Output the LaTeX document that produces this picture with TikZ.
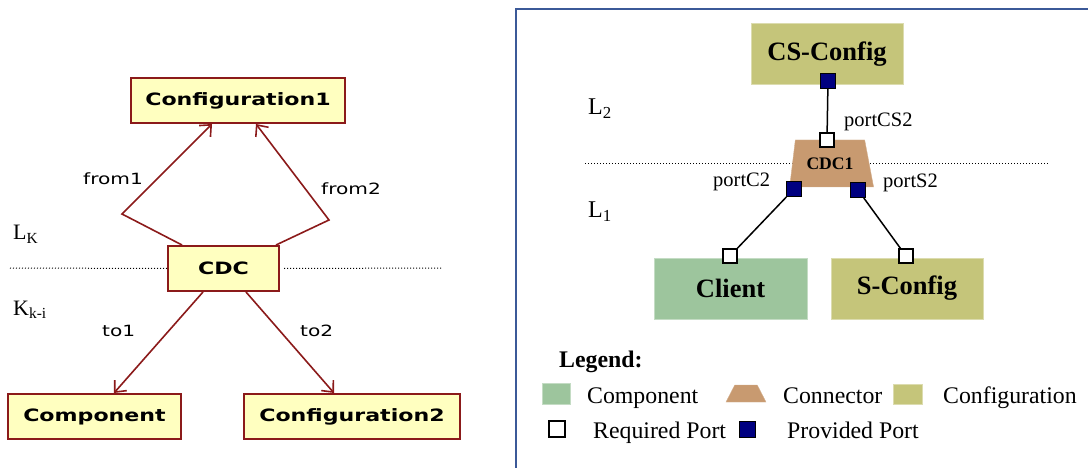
\documentclass[tikz,border=0pt]{standalone}
\usepackage{fontspec}
\setmainfont{Liberation Serif}
\newfontfamily\umlfont[FakeStretch=1.3]{DejaVu Sans}
\usetikzlibrary{shapes.geometric, arrows.meta}
\definecolor{umlfill}{HTML}{FFFFC0}
\definecolor{umlline}{HTML}{8B1A1A}
\definecolor{compgreen}{HTML}{9DC59D}
\definecolor{confolive}{HTML}{C5C57A}
\definecolor{conntan}{HTML}{C89A70}
\definecolor{portnavy}{HTML}{000080}
\definecolor{frameblue}{HTML}{3B5998}
\tikzstyle{umlbox} = [rectangle, draw=umlline, fill=umlfill, line width=2pt, text centered, minimum height=45pt, font=\umlfont\bfseries\fontsize{17}{20}\selectfont]
\tikzstyle{umlarrow} = [draw=umlline, line width=1.6pt, -{Straight Barb[length=9pt,width=16pt]}]
\tikzstyle{umllabel} = [anchor=base west, inner sep=0pt, font=\umlfont\fontsize{15.5}{18}\selectfont]
\tikzstyle{layerlabel} = [anchor=base west, inner sep=0pt, font=\fontsize{24}{26}\selectfont]
\tikzstyle{layerline} = [dotted, line width=1pt]
\tikzstyle{compbox} = [rectangle, fill=compgreen, draw=compgreen!60!white, line width=1pt, minimum width=153pt, minimum height=61pt, font=\bfseries\fontsize{26.5}{28}\selectfont]
\tikzstyle{confbox} = [rectangle, fill=confolive, draw=confolive!60!white, line width=1pt, minimum width=152pt, minimum height=61pt, font=\bfseries\fontsize{26.5}{28}\selectfont]
\tikzstyle{connector} = [trapezium, trapezium stretches=true, trapezium left angle=72, trapezium right angle=63, fill=conntan, draw=conntan!80!white, inner sep=0pt, minimum width=84pt, minimum height=47pt, font=\bfseries\fontsize{17.6}{19}\selectfont]
\tikzstyle{reqport} = [rectangle, draw=black, fill=white, line width=1.3pt, minimum size=14pt, inner sep=0pt]
\tikzstyle{provport} = [rectangle, draw=black, fill=portnavy, line width=1pt, minimum size=15pt, inner sep=0pt]
\tikzstyle{portline} = [line width=1.5pt]
\tikzstyle{portlabel} = [anchor=base west, inner sep=0pt, font=\fontsize{20.5}{22}\selectfont]
\tikzstyle{legendtext} = [anchor=base west, inner sep=0pt, font=\fontsize{23.8}{25}\selectfont]
\begin{document}
\begin{tikzpicture}[x=1pt,y=-1pt]
\useasboundingbox (0,0) rectangle (1088,468);
%%%%% LEFT: UML VIEW
\node (conf1) [umlbox, minimum width=214pt] at (238,100.5) {Configuration1};
\node (cdc) [umlbox, minimum width=111pt] at (223.5,268.5) {CDC};
\node (comp) [umlbox, minimum width=173pt] at (94.5,416.5) {Component};
\node (conf2) [umlbox, minimum width=216pt] at (352,416.5) {Configuration2};

% level line, broken by the CDC box
\coordinate (lkleft) at (10,268);
\coordinate (lkright) at (442,268);
\draw [layerline] (lkleft) -- (cdc.west);
\draw [layerline] ([xshift=4pt]cdc.east) -- (lkright);

\node (lk) [layerlabel, font=\fontsize{22}{24}\selectfont] at (13,240) {L\textsubscript{K}};
\node (lki) [layerlabel, font=\fontsize{22}{24}\selectfont] at (13,315) {K\textsubscript{k-i}};

%%%%% ADDING ARROWS
\coordinate (bend1) at (122,214);
\coordinate (bend2) at (329,220);
\draw [umlarrow] ([xshift=15pt]cdc.north west) -- (bend1) -- ([xshift=82pt]conf1.south west);
\draw [umlarrow] ([xshift=-4pt]cdc.north east) -- (bend2) -- ([xshift=126pt]conf1.south west);
\draw [umlarrow] ([xshift=36pt]cdc.south west) -- ([xshift=107pt]comp.north west);
\draw [umlarrow] ([xshift=79pt]cdc.south west) -- ([xshift=91pt]conf2.north west);

\node (from1) [umllabel] at (83,185) {from1};
\node (from2) [umllabel] at (321,195) {from2};
\node (to1) [umllabel] at (102,336) {to1};
\node (to2) [umllabel] at (300,336) {to2};

%%%%% RIGHT: ARCHITECTURE VIEW
\draw [draw=frameblue, line width=2pt] (516,470) -- (516,9) -- (1090,9);

\coordinate (ltwoleft) at (585,164);
\coordinate (ltworight) at (1048,164);
\draw [layerline] (ltwoleft) -- (ltworight);

\node (cscfg) [confbox] at (827,54.5) {CS-Config};
\node (cdc1) [connector] at (830,163.5) {CDC1};
\node (client) [compbox] at (730.5,288.5) {Client};
\node (scfg) [confbox] at (907,288.5) {S-Config};

% ports
\node (pcs) [provport] at (828,81) {};
\node (rcs) [reqport] at (827,140) {};
\node (pc2) [provport] at (794,189) {};
\node (ps2) [provport] at (858,190) {};
\node (rcl) [reqport] at (730,256) {};
\node (rsc) [reqport] at (906,256) {};

\draw [portline] (pcs) -- (rcs);
\draw [portline] (pc2) -- (rcl);
\draw [portline] (ps2) -- (rsc);

\node (lbcs) [portlabel] at (844,127) {portCS2};
\node (lbc) [portlabel] at (713,187) {portC2};
\node (lbs) [portlabel] at (883,188) {portS2};
\node (ltwo) [layerlabel] at (588,115) {L\textsubscript{2}};
\node (lone) [layerlabel] at (588,218) {L\textsubscript{1}};

%%%%% LEGEND
\node (legend) [legendtext, font=\bfseries\fontsize{23.8}{25}\selectfont] at (559,367) {Legend:};
\node (lgcomp) [compbox, minimum width=28pt, minimum height=21pt] at (556,393.5) {};
\node (txcomp) [legendtext] at (587,403) {Component};
\node (lgconn) [connector, minimum width=40pt, minimum height=17pt, trapezium left angle=62, trapezium right angle=62, font=\fontsize{4}{4}\selectfont] at (746,393.5) {\phantom{M}};
\node (txconn) [legendtext] at (783,403) {Connector};
\node (lgconf) [confbox, minimum width=29pt, minimum height=20pt] at (907.5,394) {};
\node (txconf) [legendtext] at (943,403) {Configuration};
\node (lgreq) [reqport, minimum size=16pt] at (557,429) {};
\node (txreq) [legendtext] at (593,438) {Required Port};
\node (lgprov) [provport, minimum size=16pt] at (747.5,429) {};
\node (txprov) [legendtext] at (787,438) {Provided Port};
\end{tikzpicture}
\end{document}
